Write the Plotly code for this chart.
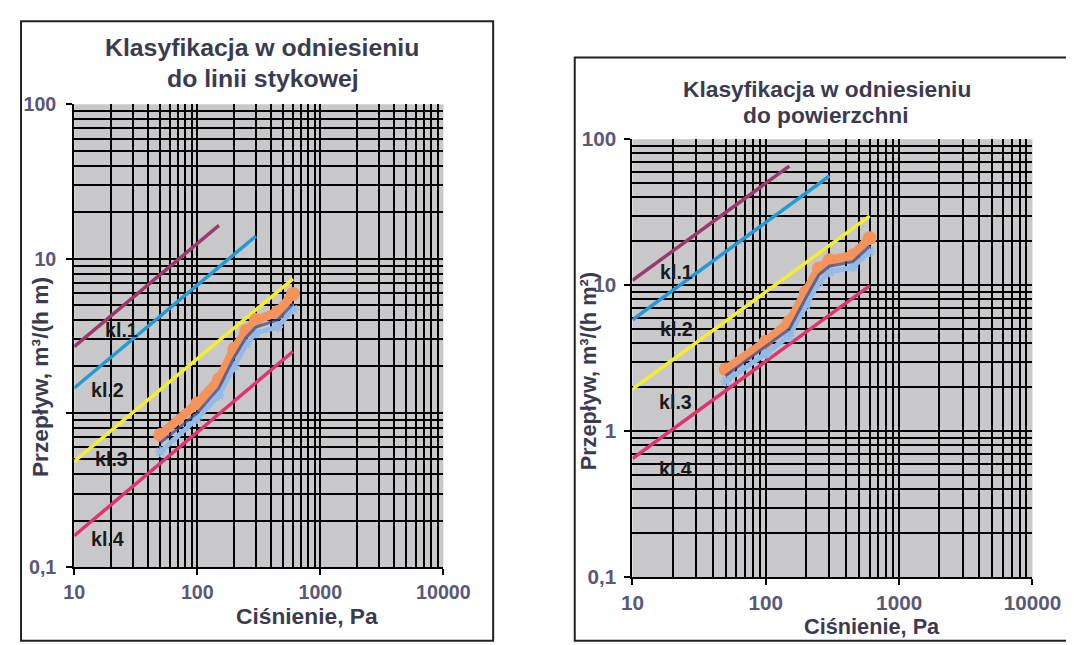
import math
import plotly.graph_objects as go

# ---------------- data ----------------
pressure = [50, 100, 150, 200, 250, 300, 450, 600]

# left chart: flow related to joint length, m3/(h m)
left_orange = [0.72, 1.15, 1.65, 2.6, 3.4, 4.0, 4.5, 5.9]
left_navy = [0.64, 1.0, 1.45, 2.3, 3.1, 3.6, 4.0, 5.1]
left_lightblue = [0.56, 0.92, 1.3, 2.0, 2.8, 3.3, 3.6, 4.7]

# right chart: flow related to area, m3/(h m2)
right_orange = [2.65, 4.1, 5.6, 9.0, 13.0, 14.8, 16.0, 21.0]
right_navy = [2.4, 3.8, 5.0, 8.2, 11.8, 13.5, 14.5, 18.5]
right_lightblue = [2.2, 3.4, 4.5, 7.3, 10.5, 12.3, 13.3, 17.0]

# class limit lines (start / end points)
class_names = ["kl.1", "kl.2", "kl.3", "kl.4"]
class_p = [[10, 150], [10, 300], [10, 600], [10, 600]]
class_left = [[2.69, 16.4], [1.45, 14.0], [0.485, 7.4], [0.16, 2.5]]
class_right = [[10.8, 65.5], [5.8, 56.0], [1.94, 29.7], [0.65, 9.9]]
class_colors = ["#9b3a6a", "#1f9bd7", "#f3ef2c", "#e0336f"]

# label positions for class names (data coordinates)
lab_left_x = [24, 18.5, 19.9, 18.5]
lab_left_y = [3.45, 1.41, 0.505, 0.152]
lab_right_x = [21.5, 21.5, 21.0, 21.0]
lab_right_y = [12.3, 5.0, 1.58, 0.55]

x_ticks = [10, 100, 1000, 10000]
x_ticktext = ["10", "100", "1000", "10000"]
y_ticks = [0.1, 1, 10, 100]
y_ticktext_left = ["0,1", "", "10", "100"]
y_ticktext_right = ["0,1", "1", "10", "100"]

W, H = 1074, 645
# the rendered page is shown slightly scaled and offset; compensate
S, OFF = 0.9666, 17.5


def fx(p):
    return (p - OFF) / S / W


def fy(p):
    return 1 - (p - OFF) / S / H


def fs(size):
    return size / S


fig = go.Figure()


def add_panel(xa, ya, cls_vals, orange, navy, light):
    for name, px_, vals, col in zip(class_names, class_p, cls_vals, class_colors):
        fig.add_trace(go.Scatter(x=px_, y=vals, mode="lines", name=name,
                                 line=dict(color=col, width=3.5),
                                 xaxis=xa, yaxis=ya, showlegend=False))
    fig.add_trace(go.Scatter(x=pressure, y=orange, mode="lines+markers",
                             line=dict(color="#f4935a", width=9),
                             marker=dict(size=14, color="#f4935a"),
                             xaxis=xa, yaxis=ya, showlegend=False))
    fig.add_trace(go.Scatter(x=pressure, y=light, mode="lines+markers",
                             line=dict(color="#92bbe8", width=5),
                             marker=dict(size=9, symbol="asterisk-open",
                                         line=dict(color="#92bbe8", width=2)),
                             xaxis=xa, yaxis=ya, showlegend=False))
    fig.add_trace(go.Scatter(x=pressure, y=navy, mode="lines",
                             line=dict(color="#3a4f9a", width=3),
                             opacity=0.75,
                             xaxis=xa, yaxis=ya, showlegend=False))


add_panel("x", "y", class_left, left_orange, left_navy, left_lightblue)
add_panel("x2", "y2", class_right, right_orange, right_navy, right_lightblue)

minor_x = [m * d for d in [10, 100, 1000] for m in range(2, 10)]
minor_y = [m * d for d in [0.1, 1, 10] for m in range(2, 10)]

FONT = "Liberation Sans, Arial"


def tickfont(size):
    return dict(family=FONT, size=fs(size), color="#5a5878", weight="bold")


def xaxis_cfg(domain, anchor, size):
    return dict(type="log", range=[1, 4], domain=domain, anchor=anchor,
                tickvals=x_ticks, ticktext=x_ticktext, tickfont=tickfont(size),
                ticks="outside", ticklen=6, tickcolor="black", tickwidth=2,
                ticklabelstandoff=0,
                showline=True, linecolor="black", linewidth=2,
                showgrid=True, gridcolor="black", gridwidth=2,
                minor=dict(tickvals=minor_x, showgrid=True, gridcolor="black",
                           gridwidth=1.6, ticks=""),
                zeroline=False)


def yaxis_cfg(domain, anchor, ticktext, size, standoff):
    return dict(type="log", range=[-1, 2], domain=domain, anchor=anchor,
                tickvals=y_ticks, ticktext=ticktext, tickfont=tickfont(size),
                ticks="outside", ticklen=6, tickcolor="black", tickwidth=2,
                ticklabelstandoff=standoff,
                showline=True, linecolor="black", linewidth=2,
                showgrid=True, gridcolor="black", gridwidth=2,
                minor=dict(tickvals=minor_y, showgrid=True, gridcolor="black",
                           gridwidth=1.6, ticks=""),
                zeroline=False)


fig.update_layout(
    width=W, height=H,
    margin=dict(l=0, r=0, t=0, b=0),
    paper_bgcolor="white",
    plot_bgcolor="#c8c8cb",
    xaxis=xaxis_cfg([fx(72), fx(443)], "y", 19),
    yaxis=yaxis_cfg([fy(566), fy(102)], "x", y_ticktext_left, 19, 6),
    xaxis2=xaxis_cfg([fx(633), fx(1035)], "y2", 20),
    yaxis2=yaxis_cfg([fy(576), fy(137)], "x2", y_ticktext_right, 20, 4),
)

# frames
fig.add_shape(type="rect", xref="paper", yref="paper",
              x0=max(fx(12), 0.001), x1=fx(493),
              y0=max(fy(641), 0.002), y1=min(fy(13), 0.998),
              line=dict(color="#222", width=2), layer="below")
fig.add_shape(type="rect", xref="paper", yref="paper",
              x0=fx(575), x1=1.02, y0=max(fy(642), 0.002), y1=fy(55),
              line=dict(color="#222", width=2), layer="below")

title_col = "#3b3b50"


def ann(x, y, text, size, angle=0, xref="paper", yref="paper", color=title_col):
    fig.add_annotation(x=x, y=y, xref=xref, yref=yref, text=text, showarrow=False,
                       textangle=angle, xanchor="center", yanchor="middle",
                       font=dict(family=FONT, size=fs(size), color=color))


# chart titles
ann(fx(261), fy(45), "<b>Klasyfikacja w odniesieniu</b>", 24)
ann(fx(262), fy(76), "<b>do linii stykowej</b>", 24)
ann(fx(829), fy(87), "<b>Klasyfikacja w odniesieniu</b>", 22)
ann(fx(828), fy(113), "<b>do powierzchni</b>", 22)

# axis titles
ann(fx(306), fy(615), "<b>Ciśnienie, Pa</b>", 22)
ann(fx(874), fy(625), "<b>Ciśnienie, Pa</b>", 21)
ann(fx(37), fy(375), "<b>Przepływ, m³/(h m)</b>", 22, angle=-90)
ann(fx(589), fy(370), "<b>Przepływ, m³/(h m²)</b>", 21, angle=-90)

# class labels
for name, xv, yv in zip(class_names, lab_left_x, lab_left_y):
    ann(math.log10(xv), math.log10(yv), "<b>" + name + "</b>", 19,
        xref="x", yref="y", color="#1a1a1a")
for name, xv, yv in zip(class_names, lab_right_x, lab_right_y):
    ann(math.log10(xv), math.log10(yv), "<b>" + name + "</b>", 19,
        xref="x2", yref="y2", color="#1a1a1a")

fig.write_html("out.html")
